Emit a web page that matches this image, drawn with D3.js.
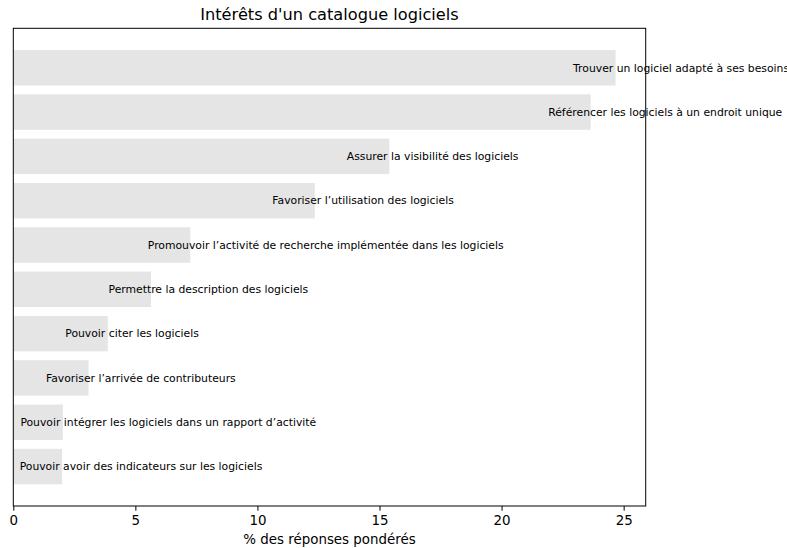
<!DOCTYPE html>
<html>
<head>
<meta charset="utf-8">
<script src="https://cdn.jsdelivr.net/npm/d3@7"></script>
<style>
  body { margin: 0; background: #fff; }
  text { font-family: "DejaVu Sans", sans-serif; }
</style>
</head>
<body>
<div id="chart"></div>
<script>
// Categories, top bar first
const categories = [
  "Trouver un logiciel adapté à ses besoins",
  "Référencer les logiciels à un endroit unique",
  "Assurer la visibilité des logiciels",
  "Favoriser l’utilisation des logiciels",
  "Promouvoir l’activité de recherche implémentée dans les logiciels",
  "Permettre la description des logiciels",
  "Pouvoir citer les logiciels",
  "Favoriser l’arrivée de contributeurs",
  "Pouvoir intégrer les logiciels dans un rapport d’activité",
  "Pouvoir avoir des indicateurs sur les logiciels"
];

// % des réponses pondérés
const values = [24.67, 23.65, 15.40, 12.35, 7.25, 5.64, 3.87, 3.08, 2.03, 2.00];

const xTicks = [0, 5, 10, 15, 20, 25];

const title = "Intérêts d'un catalogue logiciels";
const xLabel = "% des réponses pondérés";

// Set the dimensions and margins of the graph
var margin = {top: 28.3, right: 141.3, bottom: 42, left: 13.3},
    width = 787 - margin.left - margin.right,
    height = 548 - margin.top - margin.bottom;

var svg = d3.select("#chart")
  .append("svg")
    .attr("width", 787)
    .attr("height", 548)
  .append("g")
    .attr("transform", "translate(" + margin.left + "," + margin.top + ")");

// X scale, 5% margin past the biggest bar
var x = d3.scaleLinear()
  .domain([0, d3.max(values) * 1.05])
  .range([0, width]);

// Y scale, bars take 80% of the step
var y = d3.scaleBand()
  .domain(categories)
  .range([0, height])
  .paddingInner(0.2)
  .paddingOuter(0.49);

var data = categories.map(function(c, i) { return {name: c, value: values[i]}; });

// Bars
svg.selectAll(".bar")
  .data(data)
  .enter()
  .append("rect")
    .attr("class", "bar")
    .attr("x", x(0))
    .attr("y", function(d) { return y(d.name); })
    .attr("width", function(d) { return x(d.value) - x(0); })
    .attr("height", y.bandwidth())
    .attr("fill", "#e5e5e5");

// Labels start a bit left of the bar end
svg.selectAll(".label")
  .data(data)
  .enter()
  .append("text")
    .attr("class", "label")
    .attr("x", function(d) { return x(d.value - 1.74); })
    .attr("y", function(d) { return y(d.name) + y.bandwidth() / 2; })
    .attr("dy", "0.35em")
    .attr("font-size", "10.8px")
    .attr("fill", "#000")
    .text(function(d) { return d.name; });

// X axis
var xAxis = svg.append("g")
  .attr("transform", "translate(0," + height + ")")
  .call(d3.axisBottom(x).tickValues(xTicks).tickSize(4.7).tickPadding(4.7).tickFormat(d3.format("d")));
xAxis.selectAll("text").attr("font-size", "13.4px").attr("fill", "#000").style("font-family", "DejaVu Sans");
xAxis.selectAll("line").attr("stroke", "#000");
xAxis.select(".domain").remove();

// Frame
svg.append("rect")
  .attr("x", 0)
  .attr("y", 0)
  .attr("width", width)
  .attr("height", height)
  .attr("fill", "none")
  .attr("stroke", "#000")
  .attr("stroke-width", 1);

// Title
svg.append("text")
  .attr("x", width / 2)
  .attr("y", -8.3)
  .attr("text-anchor", "middle")
  .attr("font-size", "16.2px")
  .attr("fill", "#000")
  .text(title);

// X axis label
svg.append("text")
  .attr("x", width / 2)
  .attr("y", height + 38)
  .attr("text-anchor", "middle")
  .attr("font-size", "13.4px")
  .attr("fill", "#000")
  .text(xLabel);
</script>
</body>
</html>
